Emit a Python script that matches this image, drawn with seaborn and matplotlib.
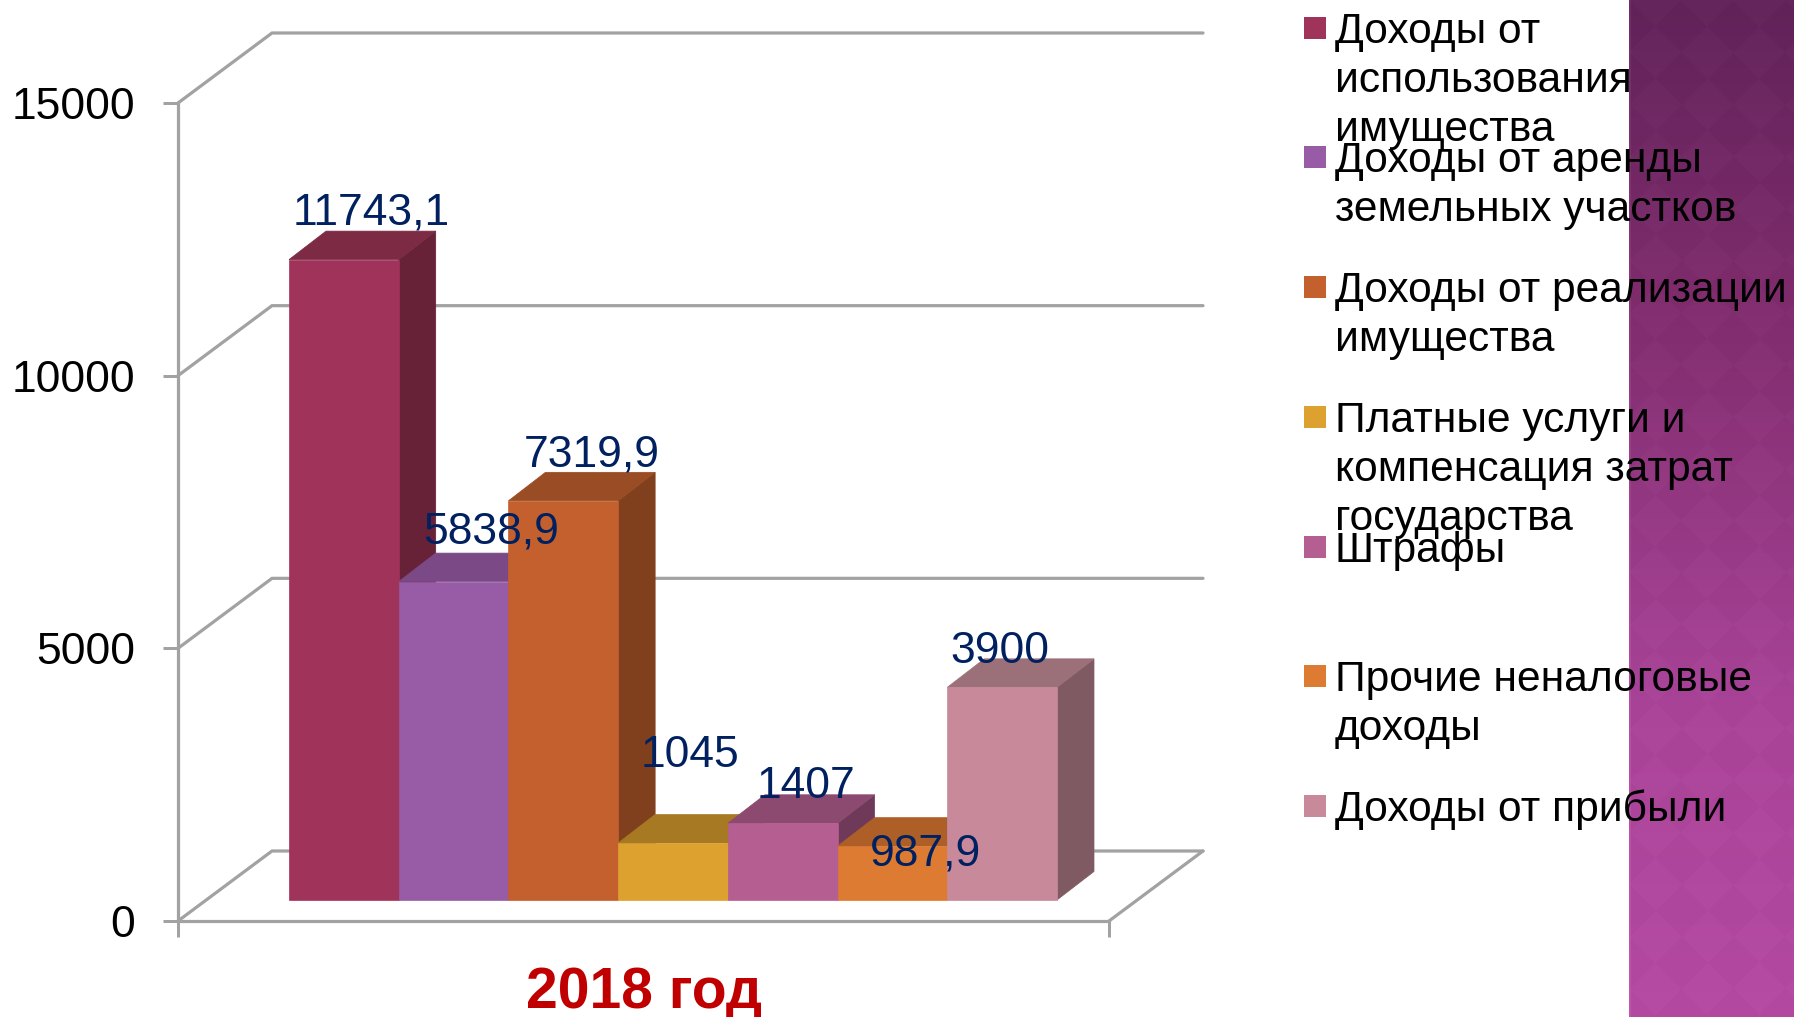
import numpy as np
import pandas as pd
import seaborn as sns
import matplotlib
matplotlib.use("Agg")
import matplotlib.pyplot as plt
from matplotlib.patches import Polygon, Rectangle

# ---- data -------------------------------------------------------------
categories = [
    "Доходы от\nиспользования\nимущества",
    "Доходы от аренды\nземельных участков",
    "Доходы от реализации\nимущества",
    "Платные услуги и\nкомпенсация затрат\nгосударства",
    "Штрафы",
    "Прочие неналоговые\nдоходы",
    "Доходы от прибыли",
]
values = [11743.1, 5838.9, 7319.9, 1045, 1407, 987.9, 3900]
y_ticks = [0, 5000, 10000, 15000]
x_label = "2018 год"

# ---- style ------------------------------------------------------------
front_colors = ["#A0335A", "#985BA5", "#C4602D", "#DDA12F", "#B55E91", "#DE7B33", "#C88A9B"]
top_colors = ["#7D2A44", "#7B4A86", "#9A4C24", "#A77922", "#8C4A70", "#AD5F27", "#9C7078"]
side_colors = ["#672238", "#5F3A68", "#80401D", "#86611B", "#6F3A59", "#8A4C1F", "#805A63"]
label_offsets_px = [(27, 47), (38, 50), (28, 46), (17, 88), (23, 37), (33, -8), (-2, 36)]
legend_centers_px = [28, 157, 287, 417, 547, 676, 806]

W, H = 1794, 1017
DPI = 100
PX = 72 / DPI
FONT = "Liberation Sans"
GRID = "#A2A2A2"

sns.set_theme(style="white")
plt.rcParams["font.family"] = [FONT, "DejaVu Sans"]
fig = plt.figure(figsize=(W / DPI, H / DPI), dpi=DPI, facecolor="white")


def axes_px(left, top, right, bottom, **kw):
    return fig.add_axes([left / W, 1 - bottom / H, (right - left) / W, (bottom - top) / H], **kw)


# ---- decorative side band ---------------------------------------------
ax_band = axes_px(1629, 0, W, H, zorder=1)
yy, xx = np.mgrid[0:H, 0:W - 1629]
stops_y = [0, 300, 700, H]
shade = np.stack([
    np.interp(yy, stops_y, [0x62, 0x80, 0xA9, 0xB5]),
    np.interp(yy, stops_y, [0x24, 0x2D, 0x44, 0x4A]),
    np.interp(yy, stops_y, [0x5A, 0x6E, 0x98, 0xA3]),
], axis=-1)
period = 52.0
pattern = np.sign(np.sin((xx + yy) * np.pi / period) * np.sin((xx - yy) * np.pi / period))
shade = shade + pattern[..., None] * 1.5
shade[:, :2] += 12
ax_band.imshow(np.clip(shade, 0, 255).astype(np.uint8), aspect="auto", interpolation="bilinear")
ax_band.set_axis_off()

# ---- back walls and axis ----------------------------------------------
ax_wall = axes_px(178, 103, 1109, 921, zorder=2)
ax_wall.set_facecolor("none")
ax_wall.set_xlim(0, 1)
ax_wall.set_ylim(0, 15000)
for s in ["top", "right"]:
    ax_wall.spines[s].set_visible(False)
for s in ["left", "bottom"]:
    ax_wall.spines[s].set_color(GRID)
    ax_wall.spines[s].set_linewidth(3.2 * PX)
ax_wall.set_yticks(y_ticks)
ax_wall.set_yticklabels([str(v) for v in y_ticks])
ax_wall.set_xticks([0, 1])
ax_wall.set_xticklabels([])
ax_wall.tick_params(axis="y", left=True, length=15 * PX, width=3 * PX, color=GRID,
                    pad=28 * PX, labelsize=32, labelcolor="black")
ax_wall.tick_params(axis="x", bottom=True, length=16 * PX, width=3 * PX, color=GRID)
ax_wall.set_xlabel(x_label, fontsize=41, fontweight="bold", color="#C00000", labelpad=17.5,
                   family=[FONT, "DejaVu Sans"])
wall_dx = 94 / 931
wall_dy = 70 / 818 * 15000
for v in y_ticks:
    ax_wall.plot([0, wall_dx, 1 + wall_dx], [v, v + wall_dy, v + wall_dy], color=GRID,
                 lw=3.2 * PX, clip_on=False, solid_joinstyle="miter", zorder=1)
ax_wall.plot([1, 1 + wall_dx], [0, wall_dy], color=GRID, lw=3.2 * PX, clip_on=False, zorder=1)

# ---- bars -------------------------------------------------------------
ax = axes_px(289, 0, 1057, 900, zorder=3)
ax.set_facecolor("none")
df = pd.DataFrame({"category": categories, "value": values})
sns.barplot(data=df, x="category", y="value", hue="category", hue_order=categories,
            order=categories, palette=front_colors, width=1, dodge=False, legend=False,
            saturation=1, ax=ax)
ax.set_xlim(-0.5, len(categories) - 0.5)
ax.set_ylim(0, 900 / (818 / 15000))
ax.set_axis_off()
depth_x = 37 / (768 / 7)
depth_y = 28.5 * 15000 / 818
for i, patch in enumerate(ax.patches):
    x0, w, h = patch.get_x(), patch.get_width(), patch.get_height()
    patch.set_edgecolor(front_colors[i])
    patch.set_linewidth(0.5)
    patch.set_clip_on(False)
    patch.set_zorder(3 + i + 0.2)
    x1 = x0 + w
    ax.add_patch(Polygon([(x1, 0), (x1 + depth_x, depth_y), (x1 + depth_x, h + depth_y), (x1, h)],
                         closed=True, facecolor=side_colors[i], edgecolor=side_colors[i], lw=0.5,
                         clip_on=False, zorder=3 + i))
    ax.add_patch(Polygon([(x0, h), (x0 + depth_x, h + depth_y), (x1 + depth_x, h + depth_y), (x1, h)],
                         closed=True, facecolor=top_colors[i], edgecolor=top_colors[i], lw=0.5,
                         clip_on=False, zorder=3 + i + 0.1))
for i, v in enumerate(values):
    ax.annotate(f"{v:g}".replace(".", ","), xy=(i, v),
                xytext=label_offsets_px[i], textcoords="offset pixels",
                ha="center", va="center", fontsize=32, color="#002060",
                annotation_clip=False, zorder=20)

# ---- legend (entries overlap as in the original) -----------------------
for name, color, cy in zip(categories, front_colors, legend_centers_px):
    fig.add_artist(Rectangle((1304 / W, 1 - (cy + 11) / H), 22 / W, 22 / H, facecolor=color,
                             edgecolor="none", transform=fig.transFigure, zorder=10))
    for k, line in enumerate(name.split("\n")):
        fig.text(1335 / W, 1 - (cy + 15 + 49 * k) / H, line, fontsize=30.6, color="black",
                 ha="left", va="baseline", zorder=11)

fig.savefig("out.png", dpi=DPI)
